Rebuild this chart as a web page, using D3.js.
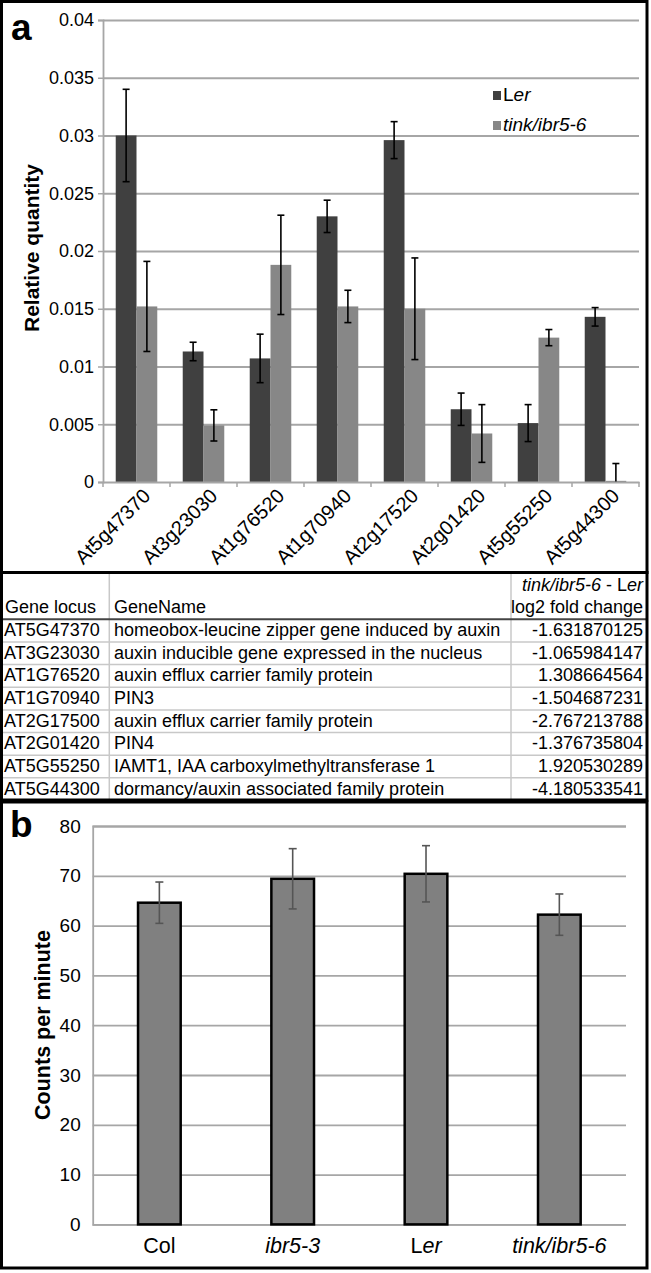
<!DOCTYPE html>
<html><head><meta charset="utf-8">
<script src="https://cdn.jsdelivr.net/npm/d3@7"></script>
<style>
html,body{margin:0;padding:0;background:#fff;}
svg{display:block;font-family:"Liberation Sans",Arial,sans-serif;}
</style></head>
<body><svg id="c" width="651" height="1273"></svg>
<script>
// ---------- Panel a data ----------
const genes = ["At5g47370","At3g23030","At1g76520","At1g70940","At2g17520","At2g01420","At5g55250","At5g44300"];
const seriesNames = ["Ler","tink/ibr5-6"];
const lerValues = [0.0300,0.0113,0.0107,0.0230,0.0296,0.0063,0.0051,0.0143];
const lerErrors = [0.0040,0.0008,0.0021,0.0014,0.0016,0.0014,0.0016,0.0008];
const tinkValues = [0.0152,0.0049,0.0188,0.0152,0.0150,0.0042,0.0125,0.0001];
const tinkErrors = [0.0039,0.00135,0.0043,0.0014,0.0044,0.0025,0.0007,0.0015];
const yTicksA = [0,0.005,0.01,0.015,0.02,0.025,0.03,0.035,0.04];
const yTickLabelsA = ["0","0.005","0.01","0.015","0.02","0.025","0.03","0.035","0.04"];

// ---------- Table data ----------
const tableLocus = ["AT5G47370","AT3G23030","AT1G76520","AT1G70940","AT2G17500","AT2G01420","AT5G55250","AT5G44300"];
const tableNames = ["homeobox-leucine zipper gene induced by auxin","auxin inducible gene expressed in the nucleus","auxin efflux carrier family protein","PIN3","auxin efflux carrier family protein","PIN4","IAMT1, IAA carboxylmethyltransferase 1","dormancy/auxin associated family protein"];
const tableFold = ["-1.631870125","-1.065984147","1.308664564","-1.504687231","-2.767213788","-1.376735804","1.920530289","-4.180533541"];

// ---------- Panel b data ----------
const genotypes = ["Col","ibr5-3","Ler","tink/ibr5-6"];
const cpmValues = [64.6,69.4,70.4,62.2];
const cpmErrors = [4.15,6.05,5.65,4.15];
const yTicksB = [0,10,20,30,40,50,60,70,80];

const FONT = '"Liberation Sans",Arial,sans-serif';
const svg = d3.select("#c");
svg.append("rect").attr("width",651).attr("height",1273).attr("fill","#fff");

// helper: label with L upright and "er" italic
function lerText(sel){
  sel.append("tspan").text("L");
  sel.append("tspan").attr("font-style","italic").text("er");
}

// ================= Panel a =================
const xA = d3.scaleBand().domain(genes).range([103,639]).paddingInner(0.38).paddingOuter(0.19);
const xSub = d3.scaleBand().domain(seriesNames).range([0,xA.bandwidth()]);
const yA = d3.scaleLinear().domain([0,0.04]).range([482,20]);
const colors = {"Ler":"#404040","tink/ibr5-6":"#878787"};

const gA = svg.append("g");
// gridlines
gA.append("g").attr("transform","translate(103,0)")
  .call(d3.axisLeft(yA).tickValues(yTicksA.slice(1)).tickSize(-536).tickFormat(""))
  .call(g=>g.select(".domain").remove())
  .call(g=>g.selectAll("line").attr("stroke","#a6a6a6").attr("stroke-width",1.8));
// y axis
gA.append("g").attr("transform","translate(103,0)")
  .call(d3.axisLeft(yA).tickValues(yTicksA).tickSize(5).tickPadding(4).tickFormat((d,i)=>yTickLabelsA[i]))
  .call(g=>g.select(".domain").attr("stroke","#a6a6a6").attr("stroke-width",1.8))
  .call(g=>g.selectAll("line").attr("stroke","#a6a6a6").attr("stroke-width",1.5))
  .call(g=>g.selectAll("text").attr("font-size",18).attr("font-family",FONT).attr("fill","#000"));

// bars
const rowsA = genes.map((g,i)=>({gene:g, vals:[
  {s:"Ler",v:lerValues[i],e:lerErrors[i]},
  {s:"tink/ibr5-6",v:tinkValues[i],e:tinkErrors[i]}]}));
const grp = gA.append("g").selectAll("g").data(rowsA).join("g")
  .attr("transform",d=>`translate(${xA(d.gene)},0)`);
grp.selectAll("rect").data(d=>d.vals).join("rect")
  .attr("x",d=>xSub(d.s)).attr("width",xSub.bandwidth())
  .attr("y",d=>yA(d.v)).attr("height",d=>yA(0)-yA(d.v))
  .attr("fill",d=>colors[d.s]);
// error bars
const eb = grp.selectAll("g.err").data(d=>d.vals).join("g").attr("class","err")
  .attr("transform",d=>`translate(${xSub(d.s)+xSub.bandwidth()/2},0)`);
eb.append("line").attr("y1",d=>yA(d.v+d.e)).attr("y2",d=>yA(Math.max(0,d.v-d.e)))
  .attr("stroke","#000").attr("stroke-width",1.6);
eb.append("line").attr("x1",-3.5).attr("x2",3.5).attr("y1",d=>yA(d.v+d.e)).attr("y2",d=>yA(d.v+d.e))
  .attr("stroke","#000").attr("stroke-width",1.6);
eb.filter(d=>d.v-d.e>0).append("line").attr("x1",-3.5).attr("x2",3.5)
  .attr("y1",d=>yA(d.v-d.e)).attr("y2",d=>yA(d.v-d.e))
  .attr("stroke","#000").attr("stroke-width",1.6);

// x axis
const xAxisA = gA.append("g").attr("transform",`translate(0,${yA(0)})`)
  .call(d3.axisBottom(xA).tickSize(0).tickFormat(d=>d));
xAxisA.select(".domain").attr("stroke","#a6a6a6").attr("stroke-width",1.8);
xAxisA.selectAll("text").attr("font-size",20).attr("font-family",FONT).attr("fill","#000")
  .attr("text-anchor","end").attr("dy",0)
  .attr("transform",function(){return "translate(13,13) rotate(-45)";});
// boundary ticks
xAxisA.selectAll("line.bt").data(d3.range(genes.length+1)).join("line").attr("class","bt")
  .attr("x1",i=>xA.range()[0]+i*xA.step()).attr("x2",i=>xA.range()[0]+i*xA.step())
  .attr("y1",0).attr("y2",5).attr("stroke","#a6a6a6").attr("stroke-width",1.5);

// y title
gA.append("text").attr("transform","translate(39,248) rotate(-90)")
  .attr("text-anchor","middle").attr("font-size",21).attr("font-weight","bold").text("Relative quantity");
// panel label
gA.append("text").attr("x",11).attr("y",40).attr("font-size",37).attr("font-weight","bold").text("a");

// legend
const leg = gA.append("g").selectAll("g").data(seriesNames).join("g")
  .attr("transform",(d,i)=>`translate(493,${91+i*30})`);
leg.append("rect").attr("width",8).attr("height",9).attr("fill",d=>colors[d]);
leg.each(function(d){
  const t = d3.select(this).append("text").attr("x",10).attr("y",9.5).attr("font-size",19);
  if(d==="Ler") lerText(t); else t.attr("font-style","italic").text(d);
});

// panel a border
svg.append("rect").attr("x",1.5).attr("y",1.5).attr("width",645.5).attr("height",571)
  .attr("fill","none").attr("stroke","#000").attr("stroke-width",3);

// ================= Table =================
const tTop = 572.5, hdrBottom = 619.3, rowH = 22.65;
const colX = [0,109.3,511,647];
const tg = svg.append("g").attr("font-size",18).attr("font-family",FONT);
// column separators
tg.selectAll("line.cs").data([colX[1],colX[2]]).join("line").attr("class","cs")
  .attr("x1",d=>d).attr("x2",d=>d).attr("y1",tTop).attr("y2",800)
  .attr("stroke","#c8c8c8").attr("stroke-width",1.5);
// row separators
tg.selectAll("line.rs").data(d3.range(1,tableLocus.length)).join("line").attr("class","rs")
  .attr("x1",0).attr("x2",647).attr("y1",i=>hdrBottom+i*rowH).attr("y2",i=>hdrBottom+i*rowH)
  .attr("stroke","#c8c8c8").attr("stroke-width",1.5);
tg.append("line").attr("x1",0).attr("x2",647).attr("y1",hdrBottom).attr("y2",hdrBottom)
  .attr("stroke","#444").attr("stroke-width",2);
// header
tg.append("text").attr("x",5).attr("y",613.3).text("Gene locus");
tg.append("text").attr("x",114).attr("y",613.3).text("GeneName");
const h1 = tg.append("text").attr("x",643).attr("y",590.7).attr("text-anchor","end");
h1.append("tspan").attr("font-style","italic").text("tink/ibr5-6");
h1.append("tspan").text(" - ");
lerText(h1);
tg.append("text").attr("x",643).attr("y",613.3).attr("text-anchor","end").text("log2 fold change");
// rows
const trows = tg.selectAll("g.row").data(tableLocus.map((l,i)=>({l,n:tableNames[i],f:tableFold[i],i})))
  .join("g").attr("class","row").attr("transform",d=>`translate(0,${hdrBottom+d.i*rowH+16.8})`);
trows.append("text").attr("x",4).text(d=>d.l);
trows.append("text").attr("x",114).text(d=>d.n);
trows.append("text").attr("x",643).attr("text-anchor","end").text(d=>d.f);
// table border
svg.append("rect").attr("x",1.5).attr("y",tTop).attr("width",645.5).attr("height",800-tTop)
  .attr("fill","none").attr("stroke","#000").attr("stroke-width",3);

// ================= Panel b =================
const xB = d3.scaleBand().domain(genotypes).range([92.7,626]).paddingInner(0.68).paddingOuter(0.34);
const yB = d3.scaleLinear().domain([0,80]).range([1224.4,826]);
const gB = svg.append("g");
gB.append("g").attr("transform","translate(92.7,0)")
  .call(d3.axisLeft(yB).tickValues(yTicksB).tickSize(-533.3).tickPadding(12).tickFormat(d3.format("d")))
  .call(g=>g.select(".domain").attr("stroke","#a6a6a6").attr("stroke-width",1.8))
  .call(g=>g.selectAll("line").attr("stroke","#a6a6a6").attr("stroke-width",1.8))
  .call(g=>g.selectAll("text").attr("font-size",19).attr("font-family",FONT).attr("fill","#000"));
gB.selectAll("rect.bar").data(genotypes.map((g,i)=>({g,v:cpmValues[i],e:cpmErrors[i]}))).join("rect")
  .attr("class","bar").attr("x",d=>xB(d.g)).attr("width",xB.bandwidth())
  .attr("y",d=>yB(d.v)).attr("height",d=>yB(0)-yB(d.v))
  .attr("fill","#808080").attr("stroke","#000").attr("stroke-width",2.5);
const ebB = gB.selectAll("g.errb").data(genotypes.map((g,i)=>({g,v:cpmValues[i],e:cpmErrors[i]}))).join("g")
  .attr("class","errb").attr("transform",d=>`translate(${xB(d.g)+xB.bandwidth()/2},0)`)
  .attr("stroke","#555").attr("stroke-width",1.6);
ebB.append("line").attr("y1",d=>yB(d.v+d.e)).attr("y2",d=>yB(d.v-d.e));
ebB.append("line").attr("x1",-4).attr("x2",4).attr("y1",d=>yB(d.v+d.e)).attr("y2",d=>yB(d.v+d.e));
ebB.append("line").attr("x1",-4).attr("x2",4).attr("y1",d=>yB(d.v-d.e)).attr("y2",d=>yB(d.v-d.e));
// x labels
const xlB = gB.append("g").attr("transform",`translate(0,${yB(0)})`)
  .call(d3.axisBottom(xB).tickSize(0).tickFormat(""));
xlB.select(".domain").remove();
genotypes.forEach(g=>{
  const t = gB.append("text").attr("x",xB(g)+xB.bandwidth()/2).attr("y",1253)
    .attr("text-anchor","middle").attr("font-size",21.5);
  if(g==="Col") t.text(g);
  else if(g==="Ler") lerText(t);
  else t.attr("font-style","italic").text(g);
});
gB.append("text").attr("transform","translate(50,1025) rotate(-90)")
  .attr("text-anchor","middle").attr("font-size",21.5).attr("font-weight","bold").text("Counts per minute");
gB.append("text").attr("x",10).attr("y",837).attr("font-size",37).attr("font-weight","bold").text("b");
svg.append("rect").attr("x",1.5).attr("y",802).attr("width",645.5).attr("height",1268-802)
  .attr("fill","none").attr("stroke","#000").attr("stroke-width",3);
</script></body></html>
